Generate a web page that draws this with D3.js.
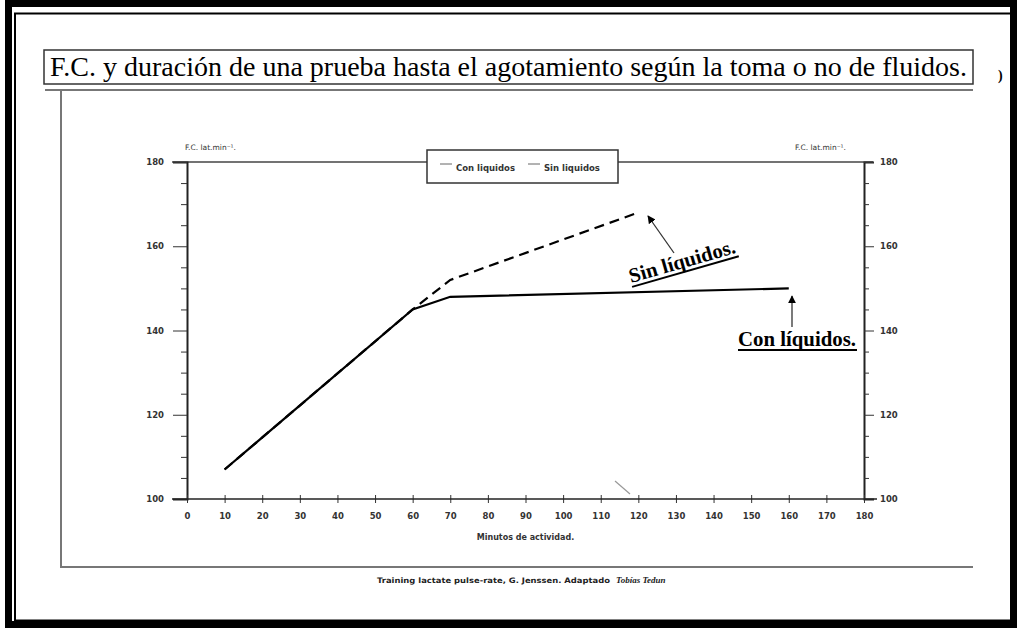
<!DOCTYPE html>
<html>
<head>
<meta charset="utf-8">
<script src="https://cdn.jsdelivr.net/npm/d3@7"></script>
<style>
  html, body { margin: 0; padding: 0; background: #fff; }
  svg { display: block; }
</style>
</head>
<body>
<svg id="chart" width="1018" height="628"></svg>
<script>
// ---- data ----
const title = "F.C. y duración de una prueba hasta el agotamiento según la toma o no de fluidos.";
const xTicks = [0, 10, 20, 30, 40, 50, 60, 70, 80, 90, 100, 110, 120, 130, 140, 150, 160, 170, 180];
const yTicks = [100, 120, 140, 160, 180];
const yMinorTicks = [105, 110, 115, 125, 130, 135, 145, 150, 155, 165, 170, 175];
const conMin = [10, 60, 70, 160];
const conFC  = [107, 145, 148, 150];
const sinMin = [10, 60, 70, 120];
const sinFC  = [107, 145, 152, 168];
const seriesNames = ["Con liquidos", "Sin liquidos"];
const yAxisTitle = "F.C. lat.min⁻¹.";
const xAxisTitle = "Minutos de actividad.";
const sourceText = "Training lactate pulse-rate, G. Jenssen. Adaptado";
const signature = "Tobías Tedun";

const svg = d3.select("#chart");
const x = d3.scaleLinear().domain([0, 180]).range([187, 864]);
const y = d3.scaleLinear().domain([100, 180]).range([499, 162]);
const sans = "'DejaVu Sans', Verdana, sans-serif";
const serif = "'Liberation Serif', 'Times New Roman', serif";

// ---- outer frames ----
svg.append("rect").attr("x", 8.5).attr("y", 3.5).attr("width", 1005).attr("height", 621)
  .attr("fill", "none").attr("stroke", "#000").attr("stroke-width", 7);
svg.append("rect").attr("x", 15).attr("y", 13.5).attr("width", 997).attr("height", 607)
  .attr("fill", "none").attr("stroke", "#000").attr("stroke-width", 2);

// inner gray frame
svg.append("path").attr("d", "M45,90 L973,90 M61,90 L61,567 L973,567")
  .attr("fill", "none").attr("stroke", "#777").attr("stroke-width", 2);

// title box
svg.append("rect").attr("x", 44).attr("y", 50).attr("width", 929).attr("height", 34)
  .attr("fill", "#fff").attr("stroke", "#333").attr("stroke-width", 1.5);
svg.append("text").attr("x", 50).attr("y", 76)
  .attr("font-family", serif).attr("font-size", 27).attr("fill", "#000")
  .attr("textLength", 917).attr("lengthAdjust", "spacingAndGlyphs")
  .text(title);
svg.append("text").attr("x", 998).attr("y", 80).attr("font-family", serif)
  .attr("font-size", 14).attr("font-weight", "bold").text(")");

// ---- axes ----
const axisColor = "#222";
// top frame line
svg.append("line").attr("x1", 172).attr("x2", 873).attr("y1", y(180)).attr("y2", y(180))
  .attr("stroke", "#444").attr("stroke-width", 1.5);
// left axis
const gL = svg.append("g").attr("transform", `translate(${x(0)},0)`)
  .call(d3.axisLeft(y).tickValues(yTicks).tickSize(14).tickPadding(9).tickFormat(d3.format("d")));
gL.append("g").call(d3.axisLeft(y).tickValues(yMinorTicks).tickSize(6).tickFormat(""))
  .select(".domain").remove();
// right axis
const gR = svg.append("g").attr("transform", `translate(${x(180)},0)`)
  .call(d3.axisRight(y).tickValues(yTicks).tickSize(10).tickPadding(6).tickFormat(d3.format("d")));
gR.append("g").call(d3.axisRight(y).tickValues(yMinorTicks).tickSize(5).tickFormat(""))
  .select(".domain").remove();
// bottom axis
const gB = svg.append("g").attr("transform", `translate(0,${y(100)})`)
  .call(d3.axisBottom(x).tickValues(xTicks).tickSize(4).tickPadding(10).tickFormat(d3.format("d")));
gB.selectAll(".tick line").attr("y1", -4).attr("y2", 4);
svg.append("line").attr("x1", 172).attr("x2", 877).attr("y1", y(100)).attr("y2", y(100))
  .attr("stroke", axisColor).attr("stroke-width", 1.5);

[gL, gR, gB].forEach(g => {
  g.select(".domain").attr("stroke", axisColor).attr("stroke-width", 2);
  g.selectAll(".tick line").attr("stroke", "#333").attr("stroke-width", 1);
  g.selectAll("text").attr("font-family", sans).attr("font-size", 8.5)
    .attr("font-weight", "bold").attr("fill", "#333");
});
gB.selectAll(".domain").remove();

// axis titles
svg.append("text").attr("x", 185).attr("y", 150).attr("font-family", sans)
  .attr("font-size", 7.5).attr("fill", "#333").text(yAxisTitle);
svg.append("text").attr("x", 795).attr("y", 150).attr("font-family", sans)
  .attr("font-size", 7.5).attr("fill", "#333").text(yAxisTitle);
svg.append("text").attr("x", (x(0) + x(180)) / 2).attr("y", 540).attr("text-anchor", "middle")
  .attr("font-family", sans).attr("font-size", 8).attr("font-weight", "bold")
  .attr("fill", "#333").text(xAxisTitle);

// ---- legend ----
svg.append("rect").attr("x", 427).attr("y", 150).attr("width", 191).attr("height", 33)
  .attr("fill", "#fff").attr("stroke", "#333").attr("stroke-width", 1.5);
const legX = [440, 528];
seriesNames.forEach((n, i) => {
  svg.append("line").attr("x1", legX[i]).attr("x2", legX[i] + 12).attr("y1", 164).attr("y2", 164)
    .attr("stroke", "#666").attr("stroke-width", 1);
  svg.append("text").attr("x", legX[i] + 16).attr("y", 171).attr("font-family", sans)
    .attr("font-size", 8.5).attr("font-weight", "bold").attr("fill", "#333").text(n);
});

// ---- data lines ----
const line = d3.line().x(d => x(d[0])).y(d => y(d[1]));
const sinData = sinMin.map((m, i) => [m, sinFC[i]]);
const conData = conMin.map((m, i) => [m, conFC[i]]);
svg.append("path").datum(sinData).attr("d", line).attr("fill", "none")
  .attr("stroke", "#000").attr("stroke-width", 2.2).attr("stroke-dasharray", "10,6");
svg.append("path").datum(conData).attr("d", line).attr("fill", "none")
  .attr("stroke", "#000").attr("stroke-width", 2.2);

// ---- annotations ----
const defs = svg.append("defs");
defs.append("marker").attr("id", "ah").attr("viewBox", "0 0 10 10").attr("refX", 9).attr("refY", 5)
  .attr("markerWidth", 8).attr("markerHeight", 8).attr("orient", "auto")
  .attr("markerUnits", "userSpaceOnUse")
  .append("path").attr("d", "M0,0 L10,5 L0,10 Z").attr("fill", "#000");

// Sin líquidos arrow and label
svg.append("line").attr("x1", 674).attr("y1", 253).attr("x2", 648).attr("y2", 216)
  .attr("stroke", "#333").attr("stroke-width", 1.3).attr("marker-end", "url(#ah)");
const gs = svg.append("g").attr("transform", "translate(631,283) rotate(-16)");
gs.append("text").attr("x", 0).attr("y", 0).attr("font-family", serif).attr("font-size", 20.5)
  .attr("font-weight", "bold").attr("fill", "#000")
  .attr("textLength", 110).attr("lengthAdjust", "spacingAndGlyphs").text("Sin líquidos.");
gs.append("line").attr("x1", 0).attr("x2", 111).attr("y1", 4).attr("y2", 4)
  .attr("stroke", "#000").attr("stroke-width", 2);

// Con líquidos arrow and label
svg.append("line").attr("x1", 792).attr("y1", 327).attr("x2", 792).attr("y2", 296)
  .attr("stroke", "#333").attr("stroke-width", 1.3).attr("marker-end", "url(#ah)");
svg.append("text").attr("x", 738).attr("y", 346).attr("font-family", serif).attr("font-size", 21)
  .attr("font-weight", "bold").attr("fill", "#000")
  .attr("textLength", 118).attr("lengthAdjust", "spacingAndGlyphs").text("Con líquidos.");
svg.append("line").attr("x1", 738).attr("x2", 857).attr("y1", 350).attr("y2", 350)
  .attr("stroke", "#000").attr("stroke-width", 2);

// faint scan mark
svg.append("line").attr("x1", 615).attr("y1", 481).attr("x2", 630).attr("y2", 494)
  .attr("stroke", "#999").attr("stroke-width", 1.2);

// ---- source ----
svg.append("text").attr("x", 377).attr("y", 583).attr("font-family", sans).attr("font-size", 7.5)
  .attr("font-weight", "bold").attr("fill", "#222")
  .attr("textLength", 233).attr("lengthAdjust", "spacingAndGlyphs").text(sourceText);
svg.append("text").attr("x", 616).attr("y", 583).attr("font-family", serif).attr("font-size", 9)
  .attr("font-style", "italic").attr("font-weight", "bold").attr("fill", "#222").text(signature);
</script>
</body>
</html>
